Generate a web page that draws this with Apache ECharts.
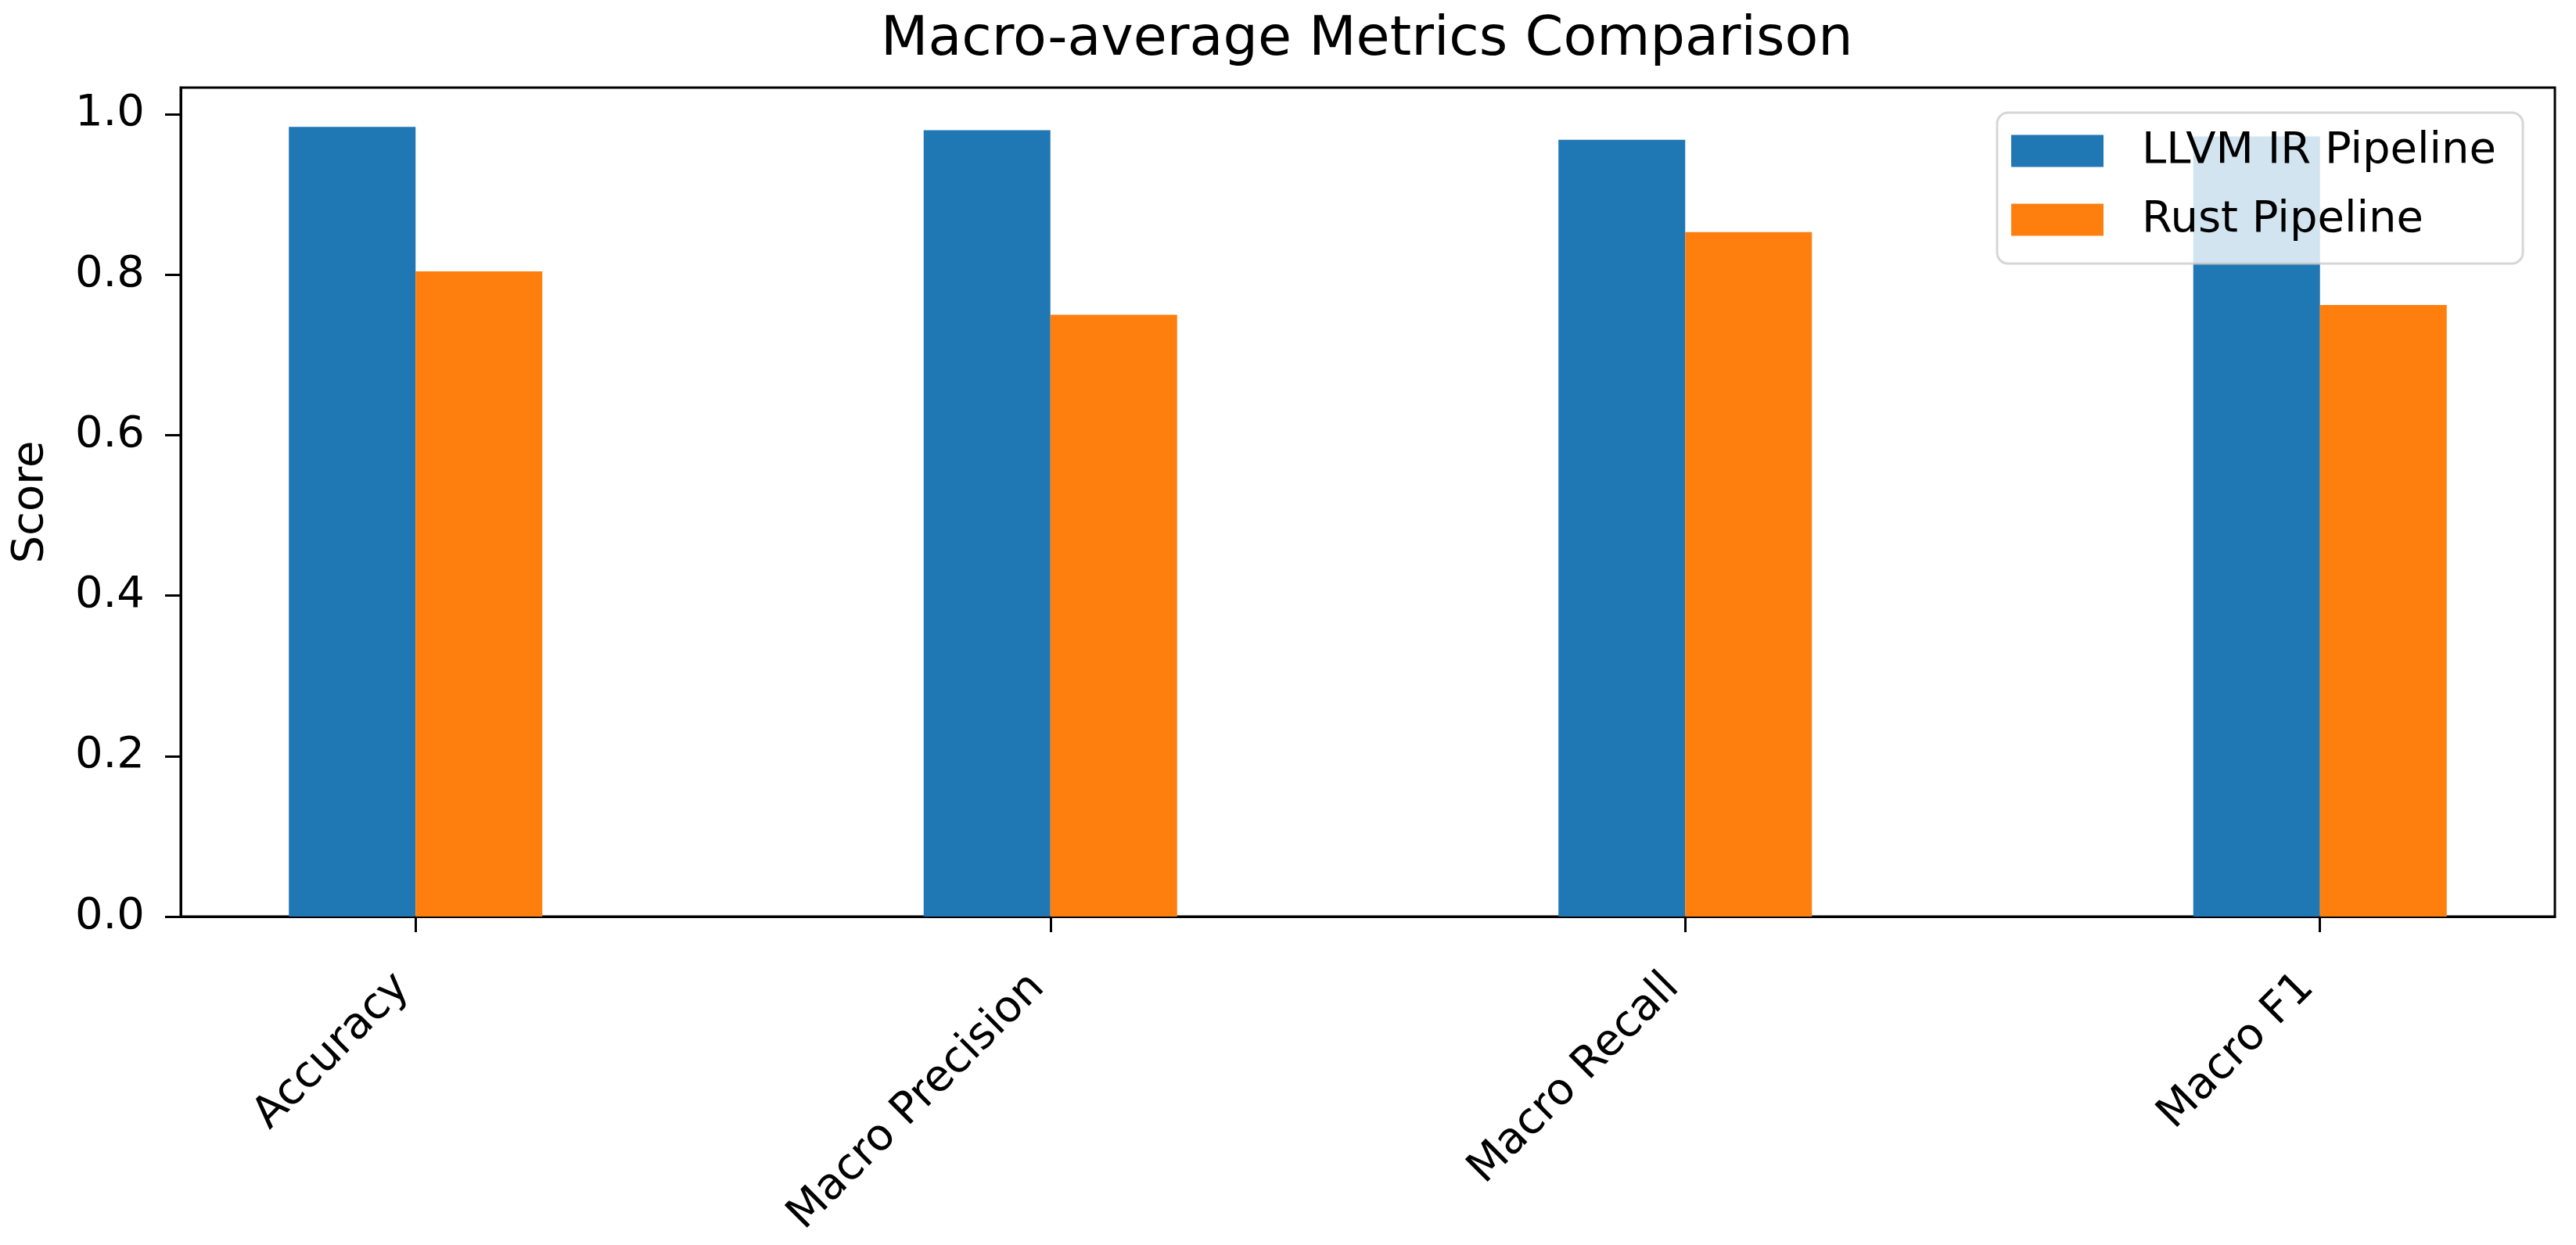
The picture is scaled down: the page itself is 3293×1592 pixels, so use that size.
<!DOCTYPE html>
<html>
<head>
<meta charset="utf-8">
<script src="https://cdn.jsdelivr.net/npm/echarts@6/dist/echarts.min.js"></script>
<style>
html,body{margin:0;padding:0;background:#fff;}
#chart{width:3293px;height:1592px;}
</style>
</head>
<body>
<div id="chart"></div>
<script>
const categories = ['Accuracy', 'Macro Precision', 'Macro Recall', 'Macro F1'];
const llvmValues = [0.984, 0.980, 0.968, 0.972];
const rustValues = [0.804, 0.750, 0.853, 0.762];
const seriesNames = ['LLVM IR Pipeline', 'Rust Pipeline'];
const yTicks = [0.0, 0.2, 0.4, 0.6, 0.8, 1.0];
const titleText = 'Macro-average Metrics Comparison';
const yLabel = 'Score';

const FONT = 'DejaVu Sans';
const catIdx = categories.map((c, i) => i);

const chart = echarts.init(document.getElementById('chart'), null, {renderer: 'canvas'});
chart.setOption({
  animation: false,
  backgroundColor: '#ffffff',
  title: {
    text: titleText,
    left: 1126,
    top: 17,
    padding: 0,
    textStyle: {fontFamily: FONT, fontSize: 70, fontWeight: 'normal', color: '#000'}
  },
  legend: {
    orient: 'vertical',
    left: 2553,
    top: 144,
    padding: [21, 34, 28, 18],
    itemWidth: 118,
    itemHeight: 41,
    itemGap: 32,
    icon: 'rect',
    backgroundColor: 'rgba(255,255,255,0.8)',
    borderColor: 'rgba(204,204,204,0.8)',
    borderWidth: 3,
    borderRadius: 14,
    textStyle: {fontFamily: FONT, fontSize: 56, color: '#000', lineHeight: 56, padding: [0, 0, 0, 44]},
    data: seriesNames
  },
  grid: {
    left: 231, right: 27, top: 112, bottom: 420,
    show: true, borderColor: '#000', borderWidth: 3, backgroundColor: 'transparent'
  },
  xAxis: {
    type: 'value',
    min: -0.37,
    max: 3.37,
    axisLine: {show: true, onZero: false, lineStyle: {color: '#000', width: 3}},
    axisTick: {show: true, customValues: catIdx, length: 20, lineStyle: {color: '#000', width: 3}},
    axisLabel: {
      customValues: catIdx,
      formatter: v => categories[Math.round(v)],
      rotate: 45,
      margin: 66,
      padding: [0, 23, 60, 0],
      fontFamily: FONT, fontSize: 56, color: '#000'
    },
    splitLine: {show: false}
  },
  yAxis: {
    type: 'value',
    min: 0,
    max: 1.033,
    name: yLabel,
    nameLocation: 'middle',
    nameGap: 164,
    nameRotate: 90,
    nameTextStyle: {fontFamily: FONT, fontSize: 56, color: '#000'},
    axisLine: {show: true, onZero: false, lineStyle: {color: '#000', width: 3}},
    axisTick: {show: true, customValues: yTicks, length: 20, lineStyle: {color: '#000', width: 3}},
    axisLabel: {
      customValues: yTicks,
      formatter: v => v.toFixed(1),
      margin: 46,
      fontFamily: FONT, fontSize: 56, color: '#000'
    },
    splitLine: {show: false}
  },
  series: [
    {
      name: seriesNames[0], type: 'bar', barWidth: 162, barGap: '0%',
      itemStyle: {color: '#1f77b4'},
      data: catIdx.map(i => [i, llvmValues[i]])
    },
    {
      name: seriesNames[1], type: 'bar', barWidth: 162, barGap: '0%',
      itemStyle: {color: '#ff7f0e'},
      data: catIdx.map(i => [i, rustValues[i]])
    }
  ]
});
</script>
</body>
</html>
